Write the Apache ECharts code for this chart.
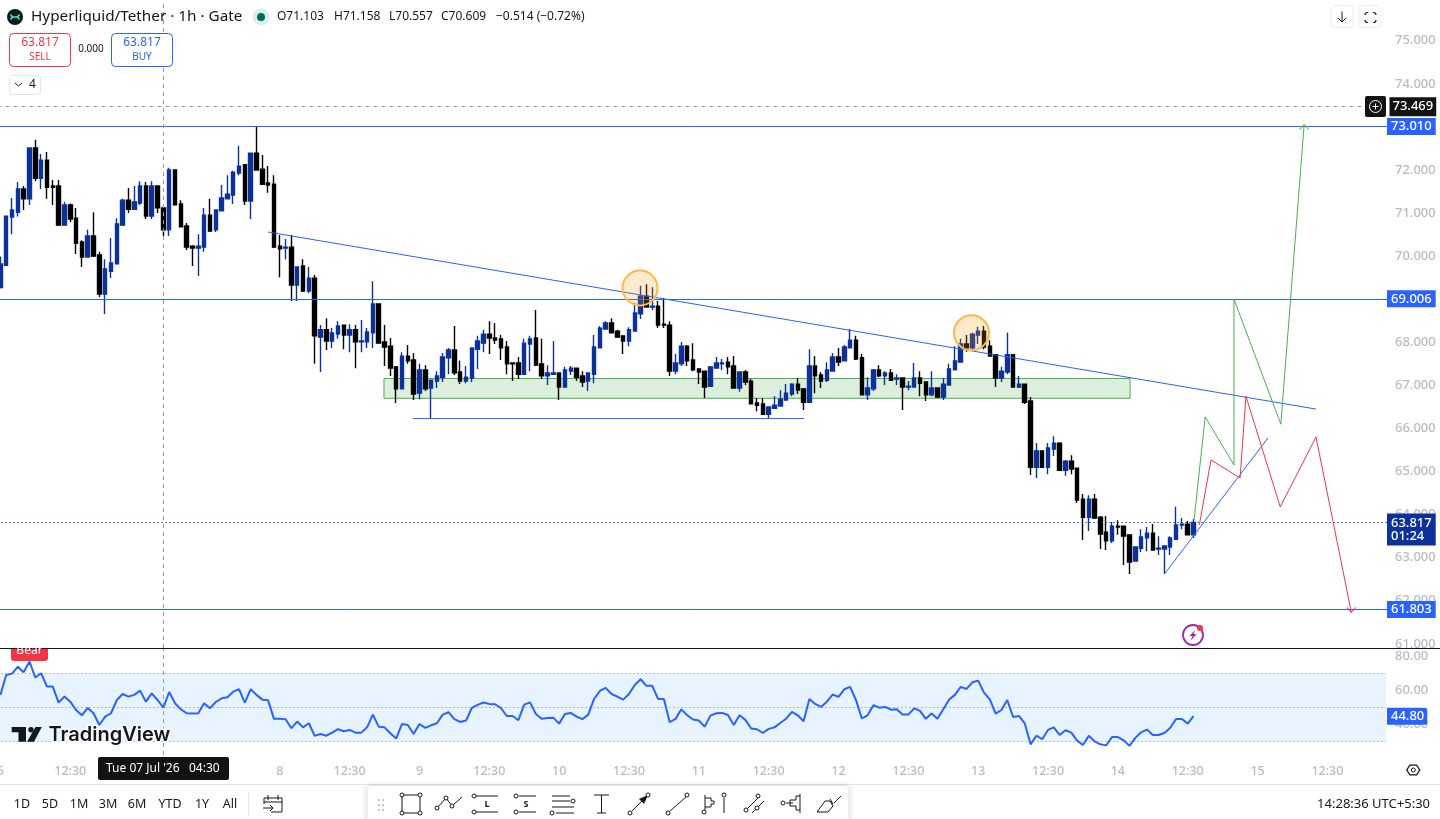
<!DOCTYPE html>
<html><head><meta charset="utf-8">
<style>html,body{margin:0;padding:0;background:#fff;overflow:hidden}#c{width:1440px;height:819px}</style>
<script src="https://cdn.jsdelivr.net/npm/echarts@6/dist/echarts.min.js"></script>
</head><body><div id="c"></div>
<script>
// [open, close, low, high] for each hourly bar
const ohlc = [
[69.27,69.82,69.25,69.99],[69.79,70.93,69.79,70.93],[70.91,71.07,70.51,71.35],[71.02,71.56,70.92,71.72],[71.56,71.33,71.07,71.63],
[71.33,72.51,71.19,72.53],[72.51,71.81,71.74,72.70],[71.81,72.23,71.56,72.37],[72.23,71.60,71.33,72.42],[71.63,71.60,71.19,71.77],
[71.63,70.72,70.70,71.77],[70.72,71.19,70.72,71.26],[71.19,70.86,70.79,71.22],[70.88,70.30,70.05,71.12],[70.33,69.98,69.75,70.37],
[69.98,70.47,69.98,70.61],[70.47,70.00,69.98,71.02],[70.03,69.12,69.05,70.10],[69.12,69.70,68.66,69.93],[69.65,69.84,69.49,70.42],
[69.82,70.75,69.82,70.88],[70.72,71.30,70.72,71.33],[71.30,71.09,71.00,71.58],[71.09,71.26,71.09,71.63],[71.23,71.63,71.19,71.74],
[71.63,70.93,70.86,71.72],[70.93,71.63,70.86,71.74],[71.63,71.12,71.00,71.63],[71.12,70.61,70.47,71.16],[70.61,72.00,70.47,72.05],
[72.00,71.19,71.19,72.00],[71.21,70.68,70.68,71.30],[70.70,70.21,70.14,70.77],[70.23,70.19,69.77,70.26],[70.19,70.23,69.54,70.51],
[70.21,70.95,70.10,71.12],[70.95,70.58,70.58,71.33],[70.61,71.07,70.56,71.09],[71.05,71.35,71.05,71.65],[71.33,71.44,71.33,71.88],
[71.42,71.95,71.21,71.98],[71.93,72.09,71.88,72.56],[72.12,71.28,71.19,72.14],[71.28,72.39,70.86,72.39],[72.39,72.00,71.98,73.02],
[72.02,71.67,71.65,72.35],[71.70,71.65,71.47,72.09],[71.67,70.21,70.19,71.88],[70.23,70.17,69.51,70.49],[70.19,70.21,69.93,70.40],
[70.21,69.33,68.96,70.49],[69.33,69.75,68.96,69.75],[69.77,69.19,69.17,69.93],[69.19,69.49,69.14,69.75],[69.49,68.15,67.50,69.56],
[68.12,68.29,67.31,68.40],[68.29,68.03,67.82,68.56],[68.03,68.22,67.87,68.33],[68.19,68.38,68.08,68.49],[68.40,68.17,67.84,68.40],
[68.17,68.29,67.77,68.42],[68.29,68.01,67.40,68.40],[68.01,68.03,67.77,68.52],[68.01,68.24,67.87,68.33],[68.22,68.89,67.87,69.42],
[68.89,67.98,67.98,68.89],[68.01,67.89,67.45,68.40],[67.91,67.40,67.22,68.10],[67.43,66.92,66.59,67.45],[66.92,67.68,66.92,67.77],
[67.68,67.57,67.50,67.94],[67.59,66.80,66.66,67.75],[66.82,67.36,66.68,67.50],[67.36,66.92,66.87,67.47],[66.94,67.12,66.23,67.12],
[67.10,67.22,66.94,67.33],[67.19,67.66,67.08,67.75],[67.64,67.82,67.26,67.87],[67.82,67.29,67.24,68.38],[67.31,67.10,67.03,67.57],
[67.10,67.19,67.05,67.45],[67.17,67.87,67.08,67.87],[67.84,68.03,67.38,68.15],[67.98,68.19,67.77,68.29],[68.19,68.10,67.73,68.49],
[68.10,68.05,67.96,68.45],[68.08,67.87,67.59,68.17],[67.89,67.50,67.26,68.03],[67.52,67.50,67.10,67.52],[67.52,67.26,67.15,67.66],
[67.26,67.98,67.24,68.08],[67.96,68.08,67.33,68.15],[68.10,67.47,67.45,68.75],[67.50,67.22,67.15,68.08],[67.22,67.29,67.01,67.47],
[67.26,67.29,67.24,68.03],[67.29,66.96,66.66,67.29],[66.96,67.36,66.96,67.43],[67.33,67.40,67.24,67.45],[67.40,67.19,67.10,67.40],
[67.22,67.08,66.96,67.33],[67.10,67.29,66.87,67.29],[67.26,67.89,67.05,68.17],[67.87,68.33,67.87,68.38],[68.31,68.45,68.31,68.49],
[68.45,68.22,68.22,68.56],[68.26,68.12,68.12,68.29],[68.15,68.03,67.73,68.15],[68.03,68.29,67.91,68.35],[68.26,68.68,68.26,68.91],
[68.66,69.07,68.54,69.31],[69.07,68.82,68.82,69.35],[68.82,68.84,68.75,69.28],[68.84,68.40,68.33,68.96],[68.42,68.40,68.33,69.03],
[68.40,67.33,67.22,68.49],[67.33,67.52,67.26,67.73],[67.50,67.91,67.45,68.01],[67.91,67.57,67.45,67.94],[67.59,67.36,67.33,67.98],
[67.38,67.31,67.03,67.38],[67.33,66.96,66.71,67.33],[66.98,67.43,66.96,67.45],[67.40,67.52,67.40,67.66],[67.50,67.52,67.36,67.61],
[67.54,67.43,67.26,67.66],[67.45,66.94,66.92,67.68],[66.94,67.31,66.85,67.33],[67.31,67.08,67.01,67.36],[67.10,66.57,66.57,67.15],
[66.59,66.54,66.40,66.71],[66.57,66.33,66.33,66.71],[66.33,66.50,66.24,66.50],[66.47,66.54,66.47,66.75],[66.52,66.68,66.52,66.89],
[66.66,66.82,66.66,67.03],[66.80,67.03,66.75,67.05],[67.03,66.89,66.80,67.17],[66.92,66.61,66.43,66.94],[66.61,67.45,66.61,67.84],
[67.45,67.22,66.82,67.68],[67.24,67.10,66.94,67.31],[67.12,67.36,67.08,67.54],[67.33,67.66,67.33,67.75],[67.66,67.54,67.45,67.87],
[67.57,67.89,67.57,67.94],[67.87,68.05,67.87,68.31],[68.05,67.61,67.59,68.15],[67.64,66.78,66.78,67.73],[66.78,66.94,66.66,67.19],
[66.92,67.36,66.87,67.38],[67.36,67.22,67.19,67.47],[67.22,67.29,67.01,67.33],[67.29,67.12,67.10,67.38],[67.15,67.17,67.01,67.26],
[67.17,66.96,66.43,67.17],[66.96,66.98,66.89,67.10],[66.96,67.17,66.96,67.52],[67.17,67.05,66.75,67.33],[67.08,66.78,66.64,67.08],
[66.78,66.94,66.75,67.33],[66.94,66.73,66.71,66.94],[66.73,67.03,66.66,67.17],[67.01,67.38,67.01,67.50],[67.36,67.57,67.36,67.91],
[67.54,67.96,67.54,68.08],[67.96,67.87,67.78,68.17],[67.87,68.19,67.82,68.22],[68.17,68.26,67.96,68.36],[68.26,67.89,67.84,68.38],
[67.91,67.68,67.68,68.05],[67.71,67.17,66.96,67.71],[67.17,67.33,67.08,67.43],[67.31,67.71,67.26,68.22],[67.71,66.96,66.96,67.73],
[66.96,67.03,66.94,67.22],[67.03,66.61,66.57,67.03],[66.64,65.10,64.92,66.73],[65.10,65.48,64.85,65.66],[65.48,65.10,65.08,65.48],
[65.10,65.55,64.94,65.66],[65.52,65.66,65.36,65.82],[65.66,65.03,65.01,65.68],[65.03,65.24,64.90,65.27],[65.24,65.06,64.94,65.38],
[65.08,64.34,64.27,65.08],[64.36,63.94,63.41,64.48],[63.94,64.36,63.62,64.45],[64.36,63.92,63.90,64.48],[63.94,63.55,63.20,63.97],
[63.59,63.39,63.18,63.97],[63.39,63.73,63.34,63.83],[63.73,63.71,63.53,63.87],[63.73,63.50,62.83,63.73],[63.53,62.90,62.62,63.53],
[62.92,63.25,62.92,63.25],[63.22,63.48,63.13,63.66],[63.46,63.57,63.15,63.71],[63.57,63.18,63.18,63.78],[63.20,63.22,63.06,63.50],
[63.20,63.27,62.62,63.29],[63.25,63.46,63.06,63.50],[63.43,63.76,63.43,64.18],[63.76,63.78,63.66,63.92],[63.78,63.53,63.53,63.85],
[63.53,63.817,63.46,63.90]
];
const rsi = [
57.3,69.0,69.8,73.9,70.6,76.9,67.5,70.0,62.2,62.2,52.8,56.3,53.3,48.4,45.3,49.6,46.5,39.6,44.5,46.5,
54.3,57.8,56.3,57.3,59.8,53.3,58.2,54.3,49.8,59.0,52.4,48.8,46.5,46.3,46.5,52.4,49.4,53.1,55.3,55.9,
59.2,60.6,52.8,60.6,57.3,54.5,54.1,43.2,43.2,43.0,37.7,41.6,38.2,40.6,33.2,34.3,33.3,35.1,37.1,35.9,
36.7,35.1,35.1,38.2,45.7,38.6,38.2,34.7,31.6,40.2,39.6,34.3,40.2,37.9,39.4,40.6,45.7,47.1,43.0,41.4,
42.2,49.6,51.4,52.8,52.0,51.8,49.6,44.9,44.9,42.4,51.6,52.9,46.1,43.2,43.7,43.9,40.4,46.1,46.7,44.5,
43.0,45.7,54.9,59.6,61.4,57.8,56.3,54.5,57.8,63.1,66.5,62.6,62.6,54.9,54.9,41.2,43.2,48.8,45.3,42.8,
42.2,38.6,45.1,46.5,46.7,45.5,39.6,45.3,42.6,37.5,37.1,34.9,37.3,38.2,40.8,43.3,47.3,45.3,41.8,54.9,
52.0,50.2,53.3,57.5,56.1,60.6,62.0,54.3,43.5,45.3,51.2,49.8,50.2,48.6,48.8,45.7,45.7,49.4,47.9,43.2,
46.3,43.3,48.8,54.5,57.3,62.0,60.8,64.7,65.7,58.6,54.7,46.3,48.4,54.3,44.3,44.9,40.6,28.2,33.3,31.2,
36.7,38.2,33.7,36.5,35.1,30.4,27.8,33.3,30.0,28.2,27.6,32.5,32.5,30.6,27.3,32.0,35.3,36.9,33.7,33.7,
34.9,38.0,43.1,43.1,40.4,44.8
];
const slotCount = 239;
const tickSlots = [0,12,24,36,48,60,72,84,96,108,120,132,144,156,168,180,192,204,216,228];
const tickTexts = ['6','12:30','7','12:30','8','12:30','9','12:30','10','12:30','11','12:30','12','12:30','13','12:30','14','12:30','15','12:30'];
const priceTicks = [61,62,63,64,65,66,67,68,69,70,71,72,73,74,75];
const rsiTicks = [40,60,80];
const rsiBands = [70,50,30];
const levels = [73.010,69.006,61.803];
const lastPrice = 63.817, crossPrice = 73.469, crossSlot = 28, rsiLast = 44.80;
const trendLine = [[46,70.56],[226.05,66.45]];
const supportLine = [[70.9,66.23],[138.1,66.23]];
const riseLine = [[200,62.62],[217.8,65.78]];
const zone = [[65.9,67.16],[194.1,66.70]];
const greenPath = [[205.1,63.88],[207,66.27],[211.95,65.15],[211.95,69.0],[220,66.10],[224,73.04]];
const redPath = [[206,63.76],[208,65.27],[213,64.85],[214,66.75],[219.9,64.18],[226.05,65.80],[232.1,61.74]];
const circles = [[109.9,69.26],[166.85,68.22]];
const rsiShadeEnd = 238.07;

const F = '"Noto Sans", "Open Sans", sans-serif';
const categories = Array.from({length:slotCount},()=> '');
tickSlots.forEach((s,i)=>{categories[s]=tickTexts[i];});

const BLUE='#2962ff', NAVY='#0c3299';
const xMin=-0.5, xMax=slotCount-0.5;
const tag=(val,txt,bg,extra)=>({yAxis:val,label:Object.assign({show:true,position:'end',distance:0,offset:[-1.5,0],formatter:txt,color:'#fff',fontFamily:F,fontSize:13,fontWeight:500,backgroundColor:bg,padding:[2,4,2,4],lineHeight:13},extra||{}),lineStyle:{color:BLUE,width:1,type:'solid'}});

const T=(x,y,text,o)=>({type:'text',x,y,silent:true,z:50,style:Object.assign({text,font:`12px ${F}`,fill:'#131722',textAlign:'left',textVerticalAlign:'middle'},o||{})});
const R=(x,y,w,h,o,r)=>({type:'rect',silent:true,z:45,shape:{x,y,width:w,height:h,r:r||0},style:Object.assign({fill:'#fff'},o||{})});
const PL=(pts,o,z)=>({type:'polyline',silent:true,z:z||50,shape:{points:pts},style:Object.assign({stroke:'#131722',lineWidth:1,fill:null},o||{})});
const C=(cx,cy,r,o,z)=>({type:'circle',silent:true,z:z||50,shape:{cx,cy,r},style:Object.assign({fill:'#fff',stroke:'#131722',lineWidth:1},o||{})});
const PG=(pts,fill,z)=>({type:'polygon',silent:true,z:z||50,shape:{points:pts},style:{fill}});

const ranges=[['1D',22],['5D',50],['1M',79],['3M',108],['6M',137],['YTD',170],['1Y',202],['All',230]];
const graphics=[
  // header
  C(15,17,8,{fill:'#0f1a20',stroke:null}),
  PL([[10.5,14.5],[12.5,17],[10.5,19.5]],{stroke:'#5fe3c8',lineWidth:1.5}),PL([[19.5,14.5],[17.5,17],[19.5,19.5]],{stroke:'#5fe3c8',lineWidth:1.5}),PL([[12.5,17],[17.5,17]],{stroke:'#5fe3c8',lineWidth:1.5}),
  T(31,17,'Hyperliquid/Tether · 1h · Gate',{font:`15.3px ${F}`}),
  C(261,17,8.5,{fill:'#d5efea',stroke:null}),C(261,17,4,{fill:'#00695c',stroke:null}),
  T(277,17,'O71.103'),T(334,17,'H71.158'),T(389,17,'L70.557'),T(441,17,'C70.609'),T(496,17,'−0.514 (−0.72%)'),
  R(9.5,33.5,61,33,{fill:'#fff',stroke:'#f23645',lineWidth:1},4),
  T(40,43,'63.817',{fill:'#f23645',textAlign:'center'}),T(40,57,'SELL',{fill:'#f23645',textAlign:'center',font:`10px ${F}`}),
  T(91,49,'0.000',{textAlign:'center',font:`10px ${F}`}),
  R(111.5,33.5,61,33,{fill:'#fff',stroke:BLUE,lineWidth:1},4),
  T(142,43,'63.817',{fill:BLUE,textAlign:'center'}),T(142,57,'BUY',{fill:BLUE,textAlign:'center',font:`10px ${F}`}),
  R(9.5,75.5,31,19,{fill:'#fff',stroke:'#e0e3eb',lineWidth:1},3),
  PL([[15,83],[18.5,86],[22,83]],{lineWidth:1}),T(29,85,'4'),
  // top-right buttons
  R(1331,5.5,22,22,{fill:'#fff',stroke:'#eceef2',lineWidth:1},4),R(1359,5.5,22,22,{fill:'#fff',stroke:'#eceef2',lineWidth:1},4),
  PL([[1342,11.5],[1342,22]]),PL([[1338,18],[1342,22],[1346,18]]),
  R(1365,12.5,11,10,{fill:'none',stroke:'#131722',lineWidth:1.2},2.5),
  R(1368,10,5,15,{fill:'#fff'}),R(1363,15,15,5,{fill:'#fff'}),
  // crosshair price handle
  R(1365,96,21,21,{fill:'#131313'},2),C(1375.5,106.5,6,{fill:'none',stroke:'#fff'}),
  PL([[1372.5,106.5],[1378.5,106.5]],{stroke:'#fff'}),PL([[1375.5,103.5],[1375.5,109.5]],{stroke:'#fff'}),
  // alert icon
  C(1193,635,10,{fill:'#fff',stroke:'#9c27b0',lineWidth:1.8}),
  PG([[1195,630],[1189.5,636],[1192.5,636],[1190.5,641],[1196.5,634],[1193.5,634]],'#9c27b0'),
  C(1200,628,3,{fill:'#f23645',stroke:null}),
  // RSI badge (its top is cut by the pane border)
  R(11,640,37,21,{fill:'#f23645'},3),
  T(29.5,651,'Bear',{fill:'#fff',textAlign:'center'}),
  R(9,630,42,18,{fill:'#fff'}),
  // pane border
  R(0,648,1440,1,{fill:'#131722'}),
  // logo
  PG([[11.7,727],[26,727],[26,741.7],[18.5,741.7],[18.5,732.3],[11.7,732.3]],'#131722'),
  C(31,729.7,2.7,{fill:'#131722',stroke:null}),
  PG([[35.5,727],[41.8,727],[34,741.7],[27,741.7]],'#131722'),
  T(48.5,735,'TradingView',{font:`600 20px Inter`,fill:'#131722',stroke:'#fff',lineWidth:3}),
  // crosshair date tag
  R(98,757,131,23,{fill:'#131313'},2),
  T(106,769,"Tue 07 Jul '26",{fill:'#fff'}),T(189,769,'04:30',{fill:'#fff'}),
  // settings
  PG([[1406,770],[1409.5,764.5],[1417,764.5],[1420.5,770],[1417,775.5],[1409.5,775.5]],'#131722'),
  PG([[1407.5,770],[1410.2,765.7],[1416.3,765.7],[1419,770],[1416.3,774.3],[1410.2,774.3]],'#fff'),
  C(1413.3,770,2,{fill:'#fff'}),
  // bottom bar
  R(0,784,1440,1,{fill:'#e0e3eb'}),
  R(248,793,1,22,{fill:'#e0e3eb'}),
  R(367.5,786,481,40,{fill:'#fff',shadowBlur:6,shadowColor:'rgba(0,0,0,.22)'},4),
  T(1430,804,'14:28:36 UTC+5:30',{textAlign:'right',font:`13px ${F}`}),
];
ranges.forEach(r=>graphics.push(T(r[1],804,r[0],{textAlign:'center',font:`12.5px ${F}`})));
// calendar icon
graphics.push(PL([[264,798],[282,798],[282,812],[271,812]]),PL([[264,798],[264,804]]),PL([[264,802],[282,802]]),PL([[268,795],[268,800]]),PL([[278,795],[278,800]]),PL([[263,808],[273,808]]),PL([[270,805],[273,808],[270,811]]));
// drawing toolbar
for(const x of [378,382]) for(const y of [799,804,809]) graphics.push(R(x,y,2,2,{fill:'#c4c6cc'}));
const o=(x,y)=>C(x,y,2,{fill:'#fff'});
graphics.push(
  R(402,795,18,18,{fill:'none',stroke:'#131722'}),o(402,795),o(420,795),o(402,813),o(420,813),
  PL([[437,808],[446,798],[452,806],[462,797]]),o(437,808),o(446,798),o(452,806),
  PL([[476,796],[498,796]]),PL([[476,812],[498,812]]),o(474,796),o(474,812),T(487,804,'L',{textAlign:'center',font:`bold 9px ${F}`}),
  PL([[519,796],[536,796]]),PL([[519,812],[536,812]]),o(516,796),o(516,812),T(526,804,'S',{textAlign:'center',font:`bold 9px ${F}`}),
  PL([[552,796],[570,796]]),PL([[552,801],[570,801]]),PL([[552,807],[574,807]]),PL([[556,813],[574,813]]),o(573,801),o(552,813),
  PL([[594,795],[609,795]]),PL([[601.5,795],[601.5,813]]),PL([[597,813],[606,813]]),
  PL([[632,811],[646,797]]),PG([[648,795],[639,799],[644,804]],'#131722'),o(630,813),o(648,795),
  PL([[670,811],[686,797]]),o(668,813),o(687,795),
  PL([[705,795],[705,811]]),PL([[705,798],[711,798],[711,801],[714,801],[714,804],[711,804],[711,807],[705,807]]),o(704,812),PL([[724,798],[724,813]]),o(724,795),
  PL([[748,808],[758,798]]),PL([[752,813],[764,801]]),o(746,810),o(758,796),o(757,808),
  PL([[786,803],[793,803]]),PL([[800,794],[800,813]]),PL([[800,796],[796,796],[796,800],[790,800],[790,806],[796,806],[796,810],[800,810]]),o(783,803),
  PL([[817,812],[828,812],[833,806],[830,801],[825,801],[817,812]]),PL([[834,803],[841,796]]),PL([[830,799],[833,804]])
);

const chart=echarts.init(document.getElementById('c'),null,{renderer:'canvas',width:1440,height:819});
const hide={show:false};
const yLabel={color:'#b8bbc3',fontFamily:F,fontSize:13,fontWeight:500,margin:6.5,showMinLabel:true,showMaxLabel:true};
chart.setOption({
  animation:false,backgroundColor:'#fff',graphic:{elements:graphics},
  grid:[{left:-2.5,top:0,width:1391,height:648,outerBoundsMode:'none'},{left:-2.5,top:649,width:1391,height:106,outerBoundsMode:'none'}],
  xAxis:[
    {type:'category',gridIndex:0,data:categories,boundaryGap:true,axisLine:hide,axisTick:hide,axisLabel:hide,splitLine:hide},
    {type:'category',gridIndex:1,data:categories,boundaryGap:true,axisLine:hide,axisTick:hide,splitLine:hide,
      axisLabel:{color:'#b8bbc3',fontFamily:F,fontSize:12.5,fontWeight:500,margin:10,hideOverlap:false,interval:(i,v)=>v!=='' }},
    {type:'value',gridIndex:0,min:xMin,max:xMax,show:false},
    {type:'value',gridIndex:1,min:xMin,max:xMax,show:false}
  ],
  yAxis:[
    {type:'value',gridIndex:0,position:'right',min:60.904,max:75.946,axisLine:hide,axisTick:hide,splitLine:hide,
      axisLabel:Object.assign({customValues:priceTicks,formatter:v=>v.toFixed(3)},yLabel)},
    {type:'value',gridIndex:1,position:'right',min:21.94,max:84.29,axisLine:hide,axisTick:hide,splitLine:hide,
      axisLabel:Object.assign({customValues:rsiTicks,formatter:v=>v.toFixed(2)},yLabel)}
  ],
  series:[
    {type:'candlestick',name:'price',xAxisIndex:0,yAxisIndex:0,data:ohlc,barWidth:4,z:3,silent:true,
      itemStyle:{color:NAVY,color0:'#000',borderColor:NAVY,borderColor0:'#000',borderWidth:1.4}},
    {type:'line',name:'zone',xAxisIndex:2,yAxisIndex:0,data:[],z:2,silent:true,
      markArea:{silent:true,itemStyle:{color:'rgba(76,175,80,0.2)',borderColor:'#4caf50',borderWidth:1},
        data:[[{coord:zone[0]},{coord:zone[1]}]]}},
    {type:'line',name:'levels',xAxisIndex:2,yAxisIndex:0,data:[],z:6,silent:true,
      markLine:{silent:true,symbol:'none',animation:false,data:[
        tag(levels[0],levels[0].toFixed(3),BLUE),
        tag(levels[1],levels[1].toFixed(3),BLUE),
        tag(levels[2],levels[2].toFixed(3),BLUE),
        Object.assign(tag(lastPrice,lastPrice.toFixed(3)+'\n01:24',NAVY,{offset:[-1.5,7],padding:[3,4,3,4],lineHeight:13}),{lineStyle:{color:NAVY,width:1,type:[1.3,2.7]}}),
        Object.assign(tag(crossPrice,crossPrice.toFixed(3),'#131313',{offset:[1,0],padding:[3,3,3,3]}),{lineStyle:{color:'#9598a1',width:1,type:[4,4]}}),
        {xAxis:crossSlot,label:{show:false},lineStyle:{color:'#9598a1',width:1,type:[4,4]}}
      ]}},
    {type:'line',name:'trend',xAxisIndex:2,yAxisIndex:0,data:trendLine,symbol:'none',silent:true,z:7,lineStyle:{color:BLUE,width:1}},
    {type:'line',name:'support',xAxisIndex:2,yAxisIndex:0,data:supportLine,symbol:'none',silent:true,z:7,lineStyle:{color:BLUE,width:1}},
    {type:'line',name:'rise',xAxisIndex:2,yAxisIndex:0,data:riseLine,symbol:'none',silent:true,z:7,lineStyle:{color:BLUE,width:1}},
    {type:'line',name:'green',xAxisIndex:2,yAxisIndex:0,data:greenPath,symbol:'none',silent:true,z:7,lineStyle:{color:'#4caf50',width:1}},
    {type:'line',name:'red',xAxisIndex:2,yAxisIndex:0,data:redPath,symbol:'none',silent:true,z:7,lineStyle:{color:'#f23645',width:1}},
    {type:'scatter',name:'greenHead',xAxisIndex:2,yAxisIndex:0,data:[greenPath[greenPath.length-1]],silent:true,z:8,
      symbol:'path://M0 6 L6 0 L12 6',symbolSize:[9,5],symbolOffset:[0,2],itemStyle:{color:'none',borderColor:'#4caf50',borderWidth:1}},
    {type:'scatter',name:'redHead',xAxisIndex:2,yAxisIndex:0,data:[redPath[redPath.length-1]],silent:true,z:8,
      symbol:'path://M0 0 L6 6 L12 0',symbolSize:[9,5],symbolOffset:[0,-2],itemStyle:{color:'none',borderColor:'#f23645',borderWidth:1}},
    {type:'scatter',name:'circles',xAxisIndex:2,yAxisIndex:0,data:circles,silent:true,z:9,symbolSize:35,
      itemStyle:{color:'rgba(255,152,0,0.2)',borderColor:'#ffb74d',borderWidth:2,opacity:1}},
    {type:'line',name:'rsiBand',xAxisIndex:3,yAxisIndex:1,data:[],z:1,silent:true,
      markArea:{silent:true,itemStyle:{color:'rgba(33,150,243,0.11)'},
        data:[[{coord:[xMin,rsiBands[0]]},{coord:[rsiShadeEnd,rsiBands[2]]}]]},
      markLine:{silent:true,symbol:'none',label:{show:false},lineStyle:{color:'#787b86',type:[1,3],width:1},
        data:rsiBands.map(v=>[{coord:[xMin,v]},{coord:[rsiShadeEnd,v]}])}},
    {type:'line',name:'rsiCross',xAxisIndex:3,yAxisIndex:1,data:[],z:2,silent:true,
      markLine:{silent:true,symbol:'none',label:{show:false},lineStyle:{color:'#9598a1',type:[4,4],width:1},data:[{xAxis:crossSlot}]}},
    {type:'line',name:'rsi',xAxisIndex:1,yAxisIndex:1,data:rsi,symbol:'none',silent:true,z:5,lineStyle:{color:BLUE,width:2},
      markLine:{silent:true,symbol:'none',lineStyle:{color:'rgba(0,0,0,0)'},data:[
        {yAxis:rsiLast,label:{show:true,position:'end',distance:0,offset:[-1.5,0],formatter:rsiLast.toFixed(2),color:'#fff',fontFamily:F,fontSize:13,fontWeight:500,backgroundColor:BLUE,padding:[2,3,2,4],lineHeight:13,borderRadius:[0,2,2,0]}}
      ]}}
  ]
});
</script></body></html>
